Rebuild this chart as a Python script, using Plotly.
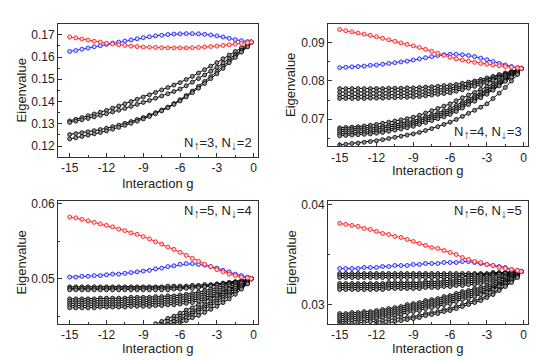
import plotly.graph_objects as go

# interaction strength grid
g = [-15.0, -14.5, -14.0, -13.5, -13.0, -12.5, -12.0, -11.5, -11.0, -10.5, -10.0,
     -9.5, -9.0, -8.5, -8.0, -7.5, -7.0, -6.5, -6.0, -5.5, -5.0, -4.5, -4.0,
     -3.5, -3.0, -2.5, -2.0, -1.5, -1.0, -0.5, -0.2]

# panel 1: N_up=3, N_down=2
p1_red = [.1690, .1686, .1681, .1676, .1671, .1667, .1662, .1659, .1655, .1652, .1649,
          .1647, .1645, .1644, .1643, .1642, .1641, .1641, .1641, .1641, .1642, .1643,
          .1645, .1647, .1649, .1652, .1655, .1658, .1661, .1664, .1667]
p1_blue = [.1625, .1629, .1635, .1640, .1646, .1651, .1657, .1662, .1667, .1672, .1677,
           .1682, .1687, .1691, .1695, .1698, .1701, .1703, .1704, .1705, .1705, .1704,
           .1702, .1699, .1695, .1690, .1684, .1678, .1673, .1669, .1667]
p1_black = [
    [.1313, .1320, .1328, .1336, .1344, .1352, .1360, .1370, .1380, .1390, .1400, .1410,
     .1420, .1430, .1441, .1452, .1463, .1474, .1485, .1499, .1513, .1528, .1543, .1559,
     .1575, .1592, .1609, .1625, .1641, .1656, .1667],
    [.1306, .1312, .1318, .1324, .1331, .1338, .1345, .1353, .1361, .1369, .1378, .1387,
     .1396, .1405, .1415, .1425, .1435, .1445, .1456, .1471, .1487, .1503, .1519, .1536,
     .1554, .1573, .1592, .1610, .1630, .1650, .1667],
    [.1252, .1256, .1260, .1264, .1269, .1274, .1280, .1287, .1294, .1302, .1310, .1319,
     .1328, .1339, .1350, .1362, .1375, .1391, .1408, .1427, .1447, .1468, .1490, .1512,
     .1535, .1558, .1582, .1605, .1628, .1650, .1667],
    [.1232, .1237, .1243, .1249, .1255, .1261, .1268, .1276, .1284, .1293, .1302, .1312,
     .1322, .1333, .1345, .1358, .1372, .1387, .1403, .1421, .1440, .1460, .1481, .1503,
     .1525, .1549, .1574, .1598, .1622, .1646, .1667],
]

# panel 2: N_up=4, N_down=3
p2_red = [.0935, .0932, .0929, .0926, .0923, .0920, .0916, .0912, .0908, .0904, .0900,
          .0896, .0892, .0888, .0883, .0878, .0873, .0867, .0862, .0858, .0855, .0852,
          .0849, .0846, .0844, .0842, .0840, .0838, .0836, .0834, .0833]
p2_blue = [.0835, .0836, .0837, .0838, .0839, .0841, .0842, .0844, .0846, .0848, .0850,
           .0852, .0855, .0858, .0861, .0864, .0867, .0869, .0870, .0870, .0869, .0867,
           .0864, .0860, .0856, .0851, .0846, .0842, .0838, .0835, .0833]
p2_black = [
    [.0780, .0780, .0780, .0780, .0780, .0780, .0780, .0780, .0781, .0781, .0781, .0782,
     .0782, .0783, .0784, .0785, .0786, .0788, .0789, .0791, .0794, .0797, .0800, .0804,
     .0808, .0812, .0817, .0821, .0825, .0830, .0833],
    [.0771, .0771, .0771, .0771, .0771, .0772, .0772, .0772, .0772, .0773, .0773, .0773,
     .0774, .0775, .0776, .0777, .0778, .0780, .0782, .0784, .0787, .0791, .0795, .0799,
     .0803, .0808, .0813, .0818, .0823, .0828, .0833],
    [.0762, .0762, .0762, .0762, .0762, .0763, .0763, .0763, .0764, .0764, .0765, .0765,
     .0766, .0767, .0768, .0770, .0772, .0774, .0776, .0779, .0783, .0787, .0791, .0795,
     .0799, .0804, .0810, .0816, .0821, .0827, .0833],
    [.0754, .0754, .0754, .0754, .0754, .0755, .0755, .0755, .0756, .0756, .0757, .0757,
     .0758, .0759, .0761, .0763, .0765, .0767, .0769, .0773, .0777, .0781, .0786, .0790,
     .0795, .0801, .0807, .0814, .0820, .0827, .0833],
    [.0677, .0678, .0679, .0680, .0682, .0684, .0686, .0689, .0692, .0695, .0698, .0701,
     .0705, .0710, .0716, .0722, .0728, .0734, .0740, .0748, .0756, .0763, .0770, .0778,
     .0785, .0793, .0802, .0810, .0818, .0826, .0833],
    [.0672, .0673, .0674, .0675, .0676, .0677, .0679, .0681, .0684, .0687, .0690, .0693,
     .0696, .0701, .0706, .0711, .0717, .0722, .0728, .0736, .0744, .0753, .0761, .0770,
     .0778, .0788, .0797, .0806, .0815, .0824, .0833],
    [.0667, .0668, .0669, .0670, .0671, .0672, .0674, .0676, .0679, .0682, .0685, .0688,
     .0691, .0696, .0701, .0706, .0711, .0716, .0722, .0730, .0739, .0747, .0756, .0764,
     .0773, .0783, .0793, .0803, .0813, .0823, .0833],
    [.0661, .0662, .0663, .0664, .0665, .0666, .0668, .0670, .0673, .0676, .0679, .0682,
     .0686, .0691, .0696, .0701, .0706, .0711, .0717, .0725, .0734, .0743, .0751, .0760,
     .0769, .0779, .0790, .0801, .0811, .0822, .0833],
    [.0656, .0657, .0658, .0659, .0660, .0661, .0663, .0665, .0668, .0671, .0674, .0677,
     .0681, .0686, .0691, .0696, .0701, .0706, .0712, .0720, .0729, .0738, .0747, .0756,
     .0765, .0776, .0787, .0799, .0810, .0821, .0833],
    [.0632, .0634, .0636, .0637, .0639, .0641, .0643, .0646, .0649, .0652, .0655, .0658,
     .0661, .0665, .0670, .0675, .0680, .0686, .0692, .0699, .0707, .0715, .0723, .0731,
     .0740, .0754, .0768, .0783, .0800, .0817, .0833],
]

# panel 3: N_up=5, N_down=4
p3_red = [.0582, .0581, .0579, .0577, .0575, .0573, .0571, .0569, .0566, .0564, .0561,
          .0559, .0556, .0553, .0549, .0546, .0542, .0539, .0535, .0531, .0527, .0523,
          .0519, .0516, .0512, .0509, .0506, .0504, .0502, .0501, .0500]
p3_blue = [.0502, .0502, .0503, .0503, .0504, .0504, .0505, .0506, .0506, .0507, .0508,
           .0509, .0510, .0511, .0513, .0514, .0516, .0517, .0519, .0520, .0520, .0519,
           .0518, .0516, .0514, .0511, .0509, .0506, .0504, .0502, .0500]
p3_black = [
    [.0489, .0489, .0489, .0489, .0489, .0489, .0489, .0489, .0489, .0489, .0489, .0489,
     .0489, .0489, .0489, .0489, .0490, .0490, .0490, .0490, .0491, .0491, .0492, .0492,
     .0493, .0494, .0495, .0496, .0497, .0499, .0500],
    [.0487, .0487, .0487, .0487, .0487, .0487, .0487, .0487, .0487, .0487, .0487, .0487,
     .0487, .0487, .0487, .0487, .0487, .0488, .0488, .0488, .0489, .0489, .0490, .0491,
     .0492, .0493, .0494, .0495, .0497, .0498, .0500],
    [.0485, .0485, .0485, .0485, .0485, .0485, .0485, .0485, .0485, .0485, .0485, .0485,
     .0485, .0485, .0485, .0485, .0485, .0486, .0486, .0487, .0487, .0488, .0489, .0490,
     .0491, .0492, .0493, .0495, .0496, .0498, .0500],
    [.0473, .0473, .0473, .0473, .0473, .0474, .0474, .0474, .0474, .0474, .0475, .0475,
     .0475, .0475, .0476, .0476, .0477, .0477, .0478, .0479, .0480, .0482, .0484, .0486,
     .0488, .0490, .0492, .0494, .0496, .0498, .0500],
    [.0470, .0470, .0470, .0470, .0470, .0471, .0471, .0471, .0471, .0471, .0472, .0472,
     .0472, .0472, .0473, .0473, .0474, .0474, .0475, .0476, .0477, .0479, .0481, .0483,
     .0485, .0487, .0490, .0492, .0495, .0497, .0500],
    [.0467, .0467, .0467, .0467, .0467, .0468, .0468, .0468, .0468, .0468, .0469, .0469,
     .0469, .0469, .0470, .0470, .0471, .0471, .0472, .0473, .0474, .0476, .0478, .0480,
     .0482, .0485, .0487, .0490, .0493, .0496, .0500],
    [.0464, .0464, .0464, .0464, .0464, .0465, .0465, .0465, .0465, .0465, .0466, .0466,
     .0466, .0466, .0467, .0467, .0468, .0468, .0469, .0470, .0471, .0473, .0475, .0477,
     .0479, .0482, .0485, .0488, .0492, .0496, .0500],
    [.0461, .0461, .0461, .0461, .0461, .0462, .0462, .0462, .0462, .0462, .0463, .0463,
     .0463, .0463, .0464, .0464, .0465, .0465, .0466, .0467, .0468, .0470, .0472, .0474,
     .0476, .0479, .0482, .0486, .0490, .0495, .0500],
    [.0395, .0397, .0399, .0401, .0404, .0407, .0410, .0413, .0416, .0419, .0423, .0427,
     .0431, .0435, .0440, .0443, .0447, .0450, .0454, .0458, .0461, .0465, .0469, .0473,
     .0477, .0481, .0486, .0490, .0494, .0497, .0500],
    [.0390, .0392, .0394, .0396, .0399, .0402, .0405, .0408, .0411, .0414, .0418, .0422,
     .0426, .0430, .0435, .0439, .0443, .0446, .0450, .0454, .0457, .0461, .0465, .0469,
     .0473, .0478, .0482, .0487, .0491, .0496, .0500],
    [.0386, .0388, .0390, .0392, .0395, .0398, .0401, .0404, .0407, .0410, .0414, .0418,
     .0422, .0426, .0431, .0435, .0439, .0443, .0447, .0451, .0454, .0458, .0462, .0466,
     .0470, .0475, .0479, .0484, .0489, .0495, .0500],
    [.0382, .0384, .0386, .0388, .0391, .0394, .0397, .0400, .0403, .0406, .0410, .0414,
     .0418, .0422, .0427, .0431, .0435, .0439, .0444, .0448, .0451, .0455, .0459, .0463,
     .0467, .0472, .0477, .0482, .0488, .0494, .0500],
    [.0378, .0380, .0382, .0384, .0387, .0390, .0393, .0396, .0399, .0402, .0406, .0410,
     .0414, .0418, .0423, .0427, .0432, .0436, .0441, .0444, .0448, .0451, .0455, .0459,
     .0463, .0468, .0473, .0479, .0486, .0493, .0500],
]

# panel 4: N_up=6, N_down=5
p4_red = [.0381, .0380, .0379, .0378, .0376, .0375, .0373, .0371, .0370, .0368, .0367,
          .0365, .0363, .0361, .0359, .0357, .0356, .0354, .0352, .0350, .0347, .0345,
          .0343, .0342, .0340, .0339, .0337, .0336, .0335, .0334, .0333]
p4_blue = [.0336, .0336, .0336, .0336, .0337, .0337, .0337, .0338, .0338, .0339, .0339,
           .0339, .0340, .0340, .0341, .0341, .0341, .0342, .0342, .0342, .0343, .0343,
           .0342, .0341, .0340, .0339, .0338, .0337, .0335, .0334, .0333]
p4_black = [
    [.0331, .0331, .0331, .0331, .0331, .0331, .0331, .0331, .0331, .0331, .0331, .0331,
     .0331, .0331, .0331, .0331, .0331, .0331, .0331, .0331, .0331, .0331, .0331, .0331,
     .0331, .0332, .0332, .0332, .0333, .0333, .0333],
    [.0329, .0329, .0329, .0329, .0329, .0329, .0329, .0329, .0329, .0329, .0329, .0329,
     .0329, .0329, .0329, .0329, .0329, .0329, .0329, .0329, .0329, .0329, .0330, .0330,
     .0330, .0331, .0331, .0332, .0332, .0333, .0333],
    [.0327, .0327, .0327, .0327, .0327, .0327, .0327, .0327, .0327, .0327, .0327, .0327,
     .0327, .0327, .0327, .0327, .0327, .0327, .0327, .0327, .0328, .0328, .0328, .0329,
     .0329, .0330, .0330, .0331, .0331, .0332, .0333],
    [.0321, .0321, .0321, .0321, .0321, .0321, .0321, .0321, .0322, .0322, .0322, .0322,
     .0322, .0322, .0323, .0323, .0323, .0324, .0324, .0325, .0325, .0326, .0326, .0327,
     .0328, .0329, .0330, .0331, .0332, .0332, .0333],
    [.0319, .0319, .0319, .0319, .0319, .0319, .0319, .0319, .0320, .0320, .0320, .0320,
     .0320, .0320, .0321, .0321, .0321, .0322, .0322, .0323, .0323, .0324, .0324, .0325,
     .0326, .0327, .0328, .0329, .0331, .0332, .0333],
    [.0317, .0317, .0317, .0317, .0317, .0317, .0317, .0317, .0318, .0318, .0318, .0318,
     .0318, .0318, .0319, .0319, .0319, .0320, .0320, .0321, .0321, .0322, .0322, .0323,
     .0324, .0325, .0326, .0328, .0330, .0331, .0333],
    [.0315, .0315, .0315, .0315, .0315, .0315, .0315, .0315, .0316, .0316, .0316, .0316,
     .0316, .0316, .0317, .0317, .0317, .0318, .0318, .0319, .0319, .0320, .0320, .0321,
     .0322, .0323, .0325, .0327, .0329, .0331, .0333],
    [.0291, .0291, .0292, .0292, .0293, .0293, .0294, .0295, .0296, .0297, .0298, .0300,
     .0301, .0302, .0304, .0305, .0306, .0308, .0309, .0311, .0313, .0314, .0316, .0317,
     .0319, .0321, .0323, .0325, .0328, .0330, .0333],
    [.0289, .0289, .0290, .0290, .0291, .0291, .0292, .0293, .0294, .0295, .0296, .0298,
     .0299, .0300, .0302, .0303, .0304, .0306, .0307, .0309, .0311, .0312, .0314, .0315,
     .0317, .0319, .0321, .0324, .0327, .0330, .0333],
    [.0287, .0287, .0288, .0288, .0289, .0289, .0290, .0291, .0292, .0293, .0294, .0296,
     .0297, .0298, .0300, .0301, .0302, .0304, .0305, .0307, .0309, .0310, .0312, .0313,
     .0315, .0317, .0320, .0323, .0326, .0329, .0333],
    [.0285, .0285, .0286, .0286, .0287, .0287, .0288, .0289, .0290, .0291, .0292, .0294,
     .0295, .0296, .0298, .0299, .0300, .0302, .0303, .0305, .0307, .0308, .0310, .0311,
     .0313, .0316, .0319, .0322, .0325, .0329, .0333],
    [.0283, .0283, .0284, .0284, .0285, .0285, .0286, .0287, .0288, .0289, .0290, .0292,
     .0293, .0294, .0296, .0297, .0298, .0300, .0301, .0303, .0305, .0306, .0308, .0310,
     .0312, .0315, .0318, .0321, .0325, .0329, .0333],
    [.0281, .0281, .0281, .0282, .0282, .0283, .0283, .0284, .0285, .0286, .0287, .0287,
     .0288, .0289, .0291, .0292, .0293, .0295, .0296, .0298, .0300, .0302, .0304, .0306,
     .0309, .0312, .0315, .0319, .0323, .0328, .0333],
    [.0274, .0275, .0276, .0277, .0278, .0279, .0280, .0281, .0282, .0283, .0284, .0285,
     .0286, .0287, .0289, .0290, .0291, .0293, .0294, .0296, .0298, .0300, .0302, .0304,
     .0307, .0310, .0314, .0318, .0322, .0327, .0333],
]

UP = "<sub><span style='font-size:12px'>↑</span></sub>"
DN = "<sub><span style='font-size:12px'>↓</span></sub>"
labels = ["N" + UP + "=3, N" + DN + "=2", "N" + UP + "=4, N" + DN + "=3",
          "N" + UP + "=5, N" + DN + "=4", "N" + UP + "=6, N" + DN + "=5"]
x_ticks = [-15, -12, -9, -6, -3, 0]
x_ticktext = ["-15", "-12", "-9", "-6", "-3", "0"]
y_ticks = [[0.12, 0.13, 0.14, 0.15, 0.16, 0.17], [0.07, 0.08, 0.09], [0.05, 0.06], [0.03, 0.04]]
y_ranges = [[0.1151, 0.1749], [0.0629, 0.0950], [0.0440, 0.0603], [0.0281, 0.0403]]

W, H = 539, 360
# plot boxes in pixels: left, right, top, bottom
boxes = [(50, 250, 11, 146), (320, 520, 11, 135), (50, 250, 191, 315), (320, 520, 191, 315)]
label_y = [133, 122, 202, 202]
xtitle_y = [173, 160, 340, 340]

FONT = "Liberation Sans, Arial, sans-serif"
AX = "#333333"

panels = [(p1_black, p1_blue, p1_red), (p2_black, p2_blue, p2_red),
          (p3_black, p3_blue, p3_red), (p4_black, p4_blue, p4_red)]

fig = go.Figure()
annotations = []
layout = {}
for k, (blacks, blue, red) in enumerate(panels):
    n = "" if k == 0 else str(k + 1)
    xa, ya = "x" + n, "y" + n
    for curve in blacks:
        fig.add_trace(go.Scatter(x=g, y=curve, xaxis=xa, yaxis=ya, mode="lines+markers",
                                 line=dict(color="black", width=1),
                                 marker=dict(size=4, color="#8f8f8f",
                                             line=dict(color="black", width=0.8))))
    fig.add_trace(go.Scatter(x=g, y=blue, xaxis=xa, yaxis=ya, mode="lines+markers",
                             line=dict(color="#2020ff", width=1),
                             marker=dict(size=4, color="#d0d0ff",
                                         line=dict(color="#2020ff", width=0.9))))
    fig.add_trace(go.Scatter(x=g, y=red, xaxis=xa, yaxis=ya, mode="lines+markers",
                             line=dict(color="#ff2020", width=1),
                             marker=dict(size=4, color="#ffd0d0",
                                         line=dict(color="#ff2020", width=0.9))))

    l, r, t, b = boxes[k]
    layout["xaxis" + n] = dict(
        domain=[l / W, r / W], anchor=ya, range=[-15.95, 0.35],
        tickvals=x_ticks, ticktext=x_ticktext, ticks="inside", ticklen=4,
        tickcolor=AX, minor=dict(ticks="inside", dtick=1.5, tick0=0, ticklen=2, tickcolor=AX),
        showline=True, linecolor=AX, linewidth=1, mirror=True,
        showgrid=False, zeroline=False, tickfont=dict(size=12, color="#222"))
    layout["yaxis" + n] = dict(
        domain=[1 - b / H, 1 - t / H], anchor=xa, range=y_ranges[k],
        tickvals=y_ticks[k], ticks="inside", ticklen=4, tickcolor=AX,
        minor=dict(ticks="inside", dtick=0.005, tick0=0, ticklen=2, tickcolor=AX),
        showline=True, linecolor=AX, linewidth=1, mirror=True,
        showgrid=False, zeroline=False, tickfont=dict(size=12, color="#222"))

    annotations.append(dict(text=labels[k], x=(r - 4) / W, y=1 - label_y[k] / H,
                            xref="paper", yref="paper", xanchor="right", yanchor="middle",
                            showarrow=False, font=dict(size=13, color="#222")))
    annotations.append(dict(text="Interaction g", x=(l + r) / 2 / W, y=1 - xtitle_y[k] / H,
                            xref="paper", yref="paper", xanchor="center", yanchor="middle",
                            showarrow=False, font=dict(size=13, color="#222")))
    annotations.append(dict(text="Eigenvalue", x=(l - 37) / W, y=1 - (t + b) / 2 / H,
                            xref="paper", yref="paper", xanchor="center", yanchor="middle",
                            textangle=-90, showarrow=False, font=dict(size=13, color="#222")))

fig.update_layout(width=W, height=H, margin=dict(l=0, r=0, t=0, b=0),
                  paper_bgcolor="white", plot_bgcolor="white", showlegend=False,
                  font=dict(family=FONT), annotations=annotations, **layout)

fig.write_html("out.html")
